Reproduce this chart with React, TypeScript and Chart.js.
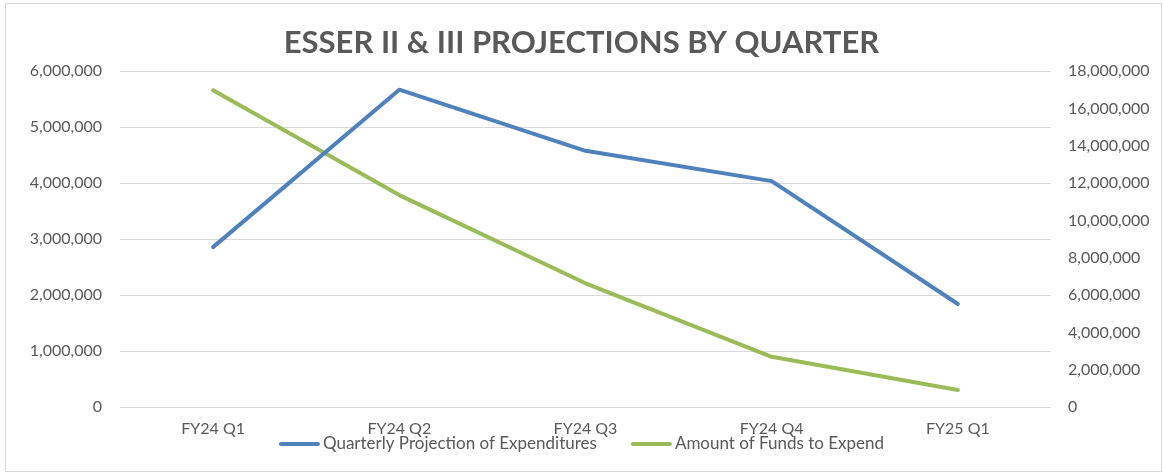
import React, { useEffect, useRef } from "react";
import { Chart, registerables } from "chart.js";

Chart.register(...registerables);

const categories = ["FY24 Q1", "FY24 Q2", "FY24 Q3", "FY24 Q4", "FY25 Q1"];
const expenditures = [2857000, 5670000, 4577000, 4036000, 1840000];
const fundsToExpend = [16980000, 11360000, 6630000, 2690000, 910000];
const seriesNames = ["Quarterly Projection of Expenditures", "Amount of Funds to Expend"];
const titleText = "ESSER II & III PROJECTIONS BY QUARTER";

const FONT = "Lato, 'Noto Sans', sans-serif";
const TEXT = "#595959";

const borderPlugin = {
  id: "chartBorder",
  beforeDraw(chart: any) {
    const { ctx, width, height } = chart;
    ctx.save();
    ctx.fillStyle = "#ffffff";
    ctx.fillRect(0, 0, width, height);
    ctx.strokeStyle = "#d9d9d9";
    ctx.lineWidth = 1;
    ctx.strokeRect(5.5, 3.5, width - 7, height - 6);
    ctx.restore();
  },
};

const legendPlugin = {
  id: "customLegend",
  afterDraw(chart: any) {
    const { ctx, chartArea } = chart;
    const lineW = 41;
    const gapText = 3;
    const gapItem = 34;
    ctx.save();
    ctx.font = `17px ${FONT}`;
    const items = chart.data.datasets.map((ds: any) => ({
      label: ds.label,
      color: ds.borderColor,
      w: lineW + gapText + ctx.measureText(ds.label).width,
    }));
    const total = items.reduce((a: number, it: any) => a + it.w, 0) + gapItem * (items.length - 1);
    let x = chart.width / 2 - total / 2;
    const y = chartArea.bottom + 37;
    ctx.textBaseline = "middle";
    ctx.textAlign = "left";
    for (const it of items) {
      ctx.strokeStyle = it.color;
      ctx.lineWidth = 4;
      ctx.lineCap = "round";
      ctx.beginPath();
      ctx.moveTo(x + 2, y);
      ctx.lineTo(x + lineW - 2, y);
      ctx.stroke();
      ctx.fillStyle = TEXT;
      ctx.fillText(it.label, x + lineW + gapText, y);
      x += it.w + gapItem;
    }
    ctx.restore();
  },
};

export default function App() {
  const ref = useRef<HTMLCanvasElement | null>(null);
  useEffect(() => {
    document.body.style.margin = "0";
    const fmt = (v: any) => Number(v).toLocaleString("en-US");
    const chart = new Chart(ref.current as HTMLCanvasElement, {
      type: "line",
      data: {
        labels: categories,
        datasets: [
          {
            label: seriesNames[0],
            data: expenditures,
            borderColor: "#4F81BD",
            backgroundColor: "#4F81BD",
            borderWidth: 4,
            pointRadius: 0,
            tension: 0,
            borderCapStyle: "round",
            borderJoinStyle: "round",
            yAxisID: "y",
          },
          {
            label: seriesNames[1],
            data: fundsToExpend,
            borderColor: "#9BBB59",
            backgroundColor: "#9BBB59",
            borderWidth: 4,
            pointRadius: 0,
            tension: 0,
            borderCapStyle: "round",
            borderJoinStyle: "round",
            yAxisID: "y1",
          },
        ],
      },
      options: {
        animation: false,
        responsive: false,
        layout: { padding: { left: 0, right: 0, top: 0, bottom: 34 } },
        plugins: {
          title: {
            display: true,
            text: titleText,
            color: TEXT,
            font: { family: FONT, size: 31, weight: "bold" },
            padding: { top: 24, bottom: 10 },
          },
          legend: { display: false },
          tooltip: { enabled: false },
        },
        scales: {
          x: {
            offset: true,
            grid: { display: false },
            border: { display: false },
            ticks: { color: TEXT, font: { family: FONT, size: 16 }, padding: 4 },
            afterFit: (s: any) => {
              s.height = 33;
            },
          },
          y: {
            position: "left",
            min: 0,
            max: 6000000,
            grid: { color: "#d9d9d9", lineWidth: 1, drawTicks: false },
            border: { display: false },
            ticks: {
              stepSize: 1000000,
              color: TEXT,
              font: { family: FONT, size: 16 },
              padding: 18,
              callback: fmt,
            },
            afterFit: (s: any) => {
              s.width = 120;
            },
          },
          y1: {
            position: "right",
            min: 0,
            max: 18000000,
            grid: { display: false, drawTicks: false },
            border: { display: false },
            ticks: {
              stepSize: 2000000,
              color: TEXT,
              font: { family: FONT, size: 16 },
              padding: 17,
              callback: fmt,
            },
            afterFit: (s: any) => {
              s.width = 112;
            },
          },
        },
      },
      plugins: [borderPlugin, legendPlugin],
    } as any);
    return () => chart.destroy();
  }, []);
  return (
    <div style={{ width: 1163, height: 474 }}>
      <canvas ref={ref} width={1163} height={474} style={{ display: "block" }} />
    </div>
  );
}
